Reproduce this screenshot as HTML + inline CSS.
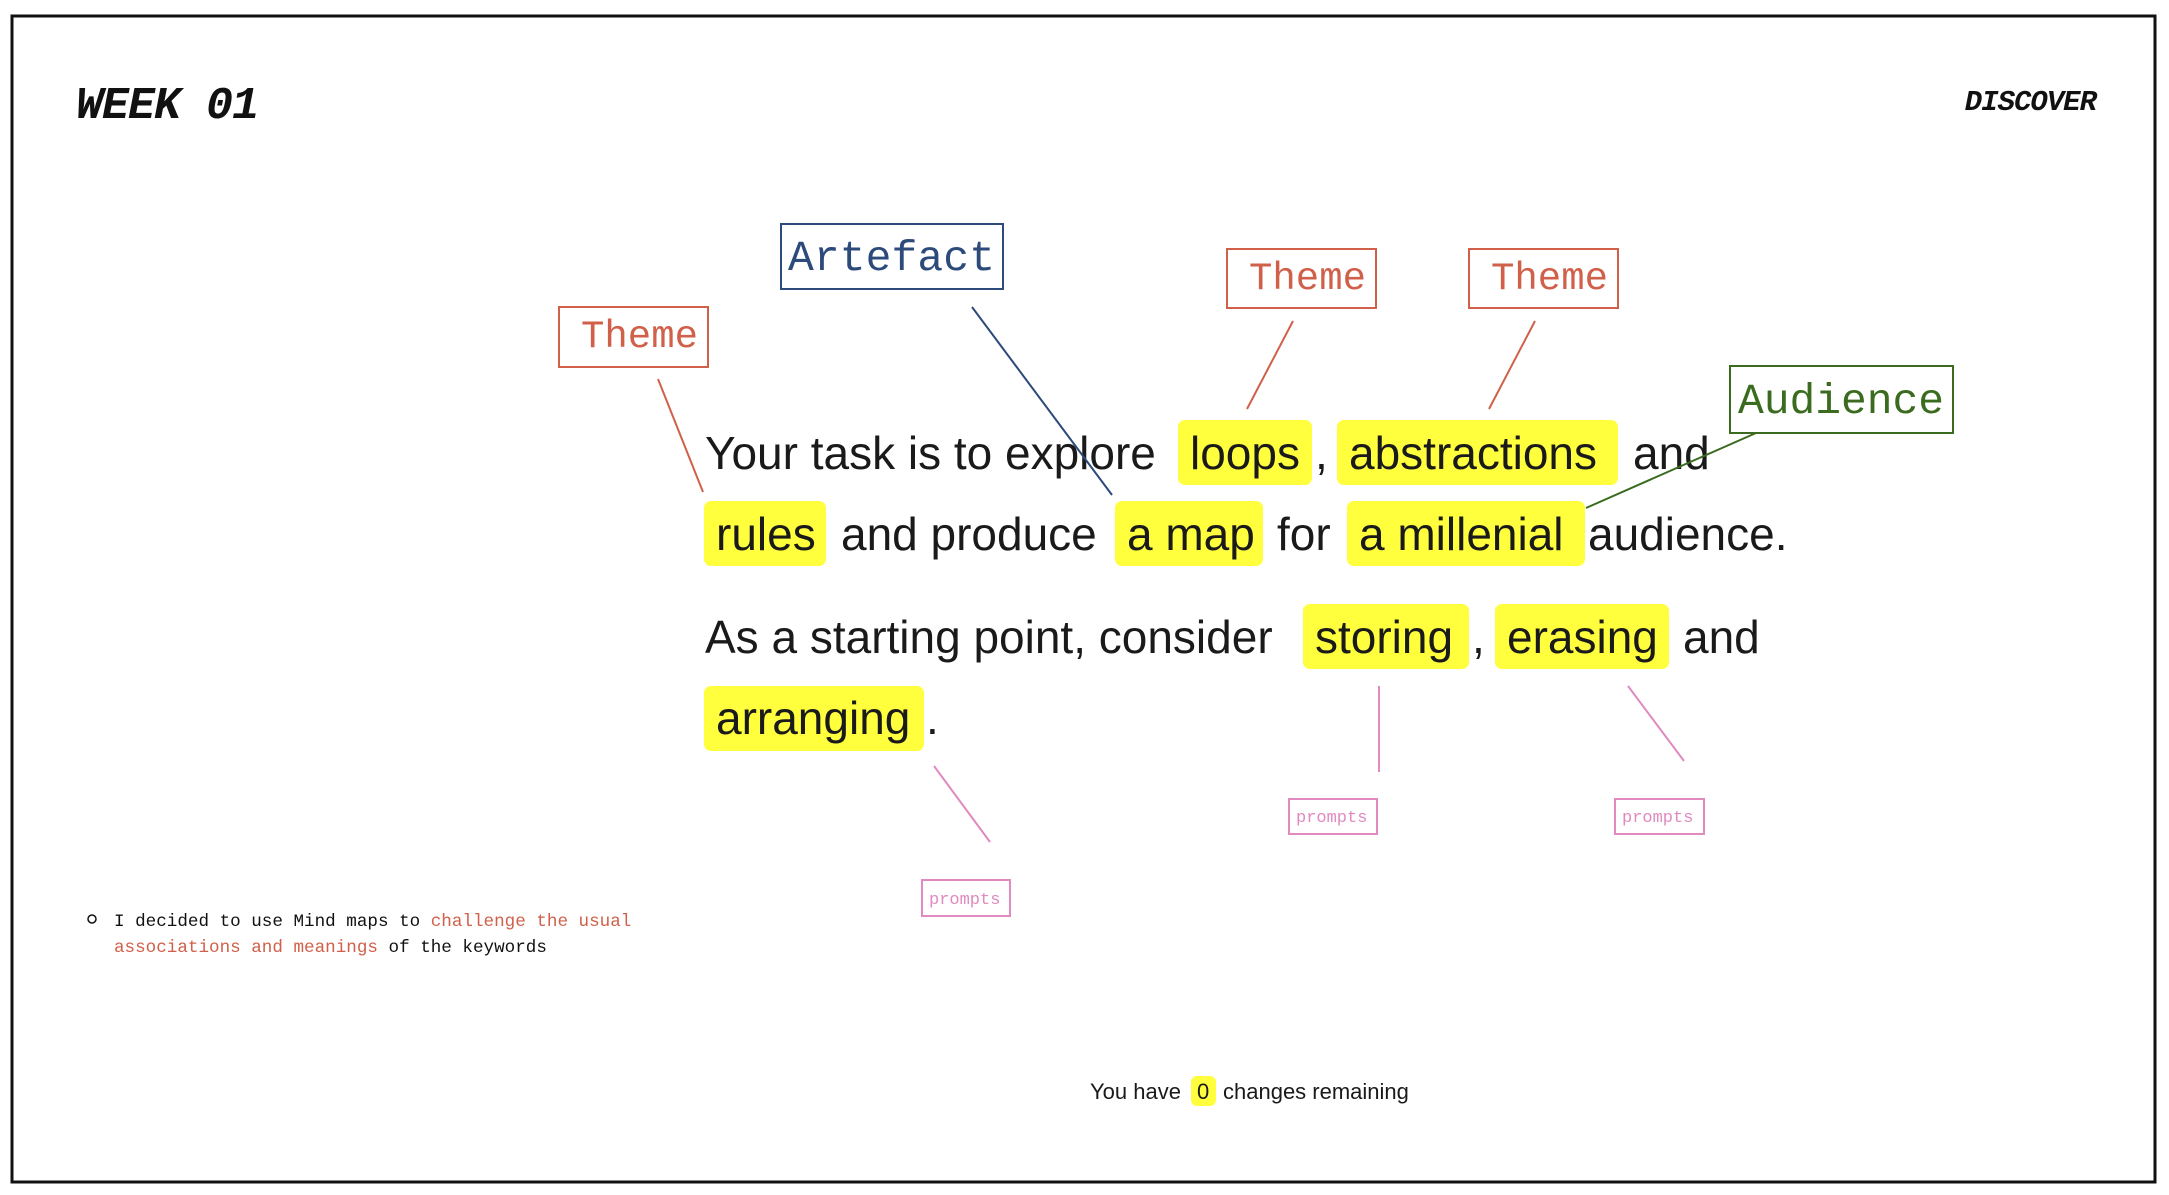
<!DOCTYPE html>
<html><head><meta charset="utf-8"><style>
html,body{margin:0;padding:0;background:#fff;}
svg{display:block;}
</style></head><body>
<svg width="2169" height="1195" viewBox="0 0 2169 1195" xmlns="http://www.w3.org/2000/svg">
<rect x="12" y="16" width="2143" height="1166" fill="#fff" stroke="#111" stroke-width="3"/>
<text x="76" y="118" font-family="Liberation Mono, monospace" font-weight="bold" font-style="italic" font-size="45" fill="#111" letter-spacing="-1">WEEK 01</text>
<text x="2096" y="110" text-anchor="end" font-family="Liberation Mono, monospace" font-weight="bold" font-style="italic" font-size="29" fill="#111" letter-spacing="-1">DISCOVER</text>

<g font-family="Liberation Mono, monospace" fill="none">
<rect x="781" y="224" width="222" height="65" stroke="#2c4a7a" stroke-width="2"/>
<text x="788" y="270" font-size="43" fill="#2c4a7a" textLength="207">Artefact</text>
<rect x="559" y="307" width="149" height="60" stroke="#d0604a" stroke-width="2"/>
<text x="581" y="347" font-size="39" fill="#d0604a">Theme</text>
<rect x="1227" y="249" width="149" height="59" stroke="#d0604a" stroke-width="2"/>
<text x="1249" y="289" font-size="39" fill="#d0604a">Theme</text>
<rect x="1469" y="249" width="149" height="59" stroke="#d0604a" stroke-width="2"/>
<text x="1491" y="289" font-size="39" fill="#d0604a">Theme</text>
<rect x="1730" y="366" width="223" height="67" stroke="#3a6b1e" stroke-width="2"/>
<text x="1738" y="413" font-size="43" fill="#3a6b1e" textLength="206">Audience</text>
<rect x="922" y="880" width="88" height="36" stroke="#e08ac0" stroke-width="2"/>
<text x="929" y="904" font-size="17" fill="#e08ac0">prompts</text>
<rect x="1289" y="799" width="88" height="35" stroke="#e08ac0" stroke-width="2"/>
<text x="1296" y="822" font-size="17" fill="#e08ac0">prompts</text>
<rect x="1615" y="799" width="89" height="35" stroke="#e08ac0" stroke-width="2"/>
<text x="1622" y="822" font-size="17" fill="#e08ac0">prompts</text>
</g>

<g fill="#ffff3d">
<rect x="1178" y="420" width="134" height="65" rx="7"/>
<rect x="1337" y="420" width="281" height="65" rx="7"/>
<rect x="704" y="501" width="122" height="65" rx="7"/>
<rect x="1115" y="501" width="148" height="65" rx="7"/>
<rect x="1347" y="501" width="238" height="65" rx="7"/>
<rect x="1303" y="604" width="166" height="65" rx="7"/>
<rect x="1495" y="604" width="174" height="65" rx="7"/>
<rect x="704" y="686" width="220" height="65" rx="7"/>
<rect x="1191" y="1076" width="25" height="30" rx="6"/>
</g>

<g font-family="Liberation Sans, sans-serif" font-size="46" fill="#1a1a1a">
<text x="705" y="469">Your task is to explore</text>
<text x="1190" y="469">loops</text>
<text x="1315" y="469">,</text>
<text x="1349" y="469">abstractions</text>
<text x="1633" y="469">and</text>
<text x="716" y="550">rules</text>
<text x="841" y="550">and produce</text>
<text x="1127" y="550">a map</text>
<text x="1277" y="550">for</text>
<text x="1359" y="550">a millenial</text>
<text x="1588" y="550">audience.</text>
<text x="705" y="653">As a starting point, consider</text>
<text x="1315" y="653">storing</text>
<text x="1472" y="653">,</text>
<text x="1507" y="653">erasing</text>
<text x="1683" y="653">and</text>
<text x="716" y="734">arranging</text>
<text x="926" y="734">.</text>
</g>

<g stroke-width="2" fill="none">
<line x1="658" y1="379" x2="703" y2="492" stroke="#d0604a"/>
<line x1="972" y1="307" x2="1112" y2="495" stroke="#2c4a7a"/>
<line x1="1293" y1="321" x2="1247" y2="409" stroke="#d0604a"/>
<line x1="1535" y1="321" x2="1489" y2="409" stroke="#d0604a"/>
<line x1="1756" y1="433" x2="1586" y2="508" stroke="#3a6b1e"/>
<line x1="934" y1="766" x2="990" y2="842" stroke="#e08ac0"/>
<line x1="1379" y1="686" x2="1379" y2="772" stroke="#e08ac0"/>
<line x1="1628" y1="686" x2="1684" y2="761" stroke="#e08ac0"/>
</g>

<circle cx="92" cy="919" r="4" fill="none" stroke="#111" stroke-width="1.5"/>
<g font-family="Liberation Mono, monospace" font-size="17.6">
<text x="114" y="926" fill="#111">I decided to use Mind maps to <tspan fill="#d0604a">challenge the usual</tspan></text>
<text x="114" y="952" fill="#d0604a">associations and meanings <tspan fill="#111">of the keywords</tspan></text>
</g>

<g font-family="Liberation Sans, sans-serif" font-size="22" fill="#1a1a1a">
<text x="1090" y="1099">You have</text>
<text x="1197" y="1099">0</text>
<text x="1223" y="1099">changes remaining</text>
</g>
</svg>
</body></html>
